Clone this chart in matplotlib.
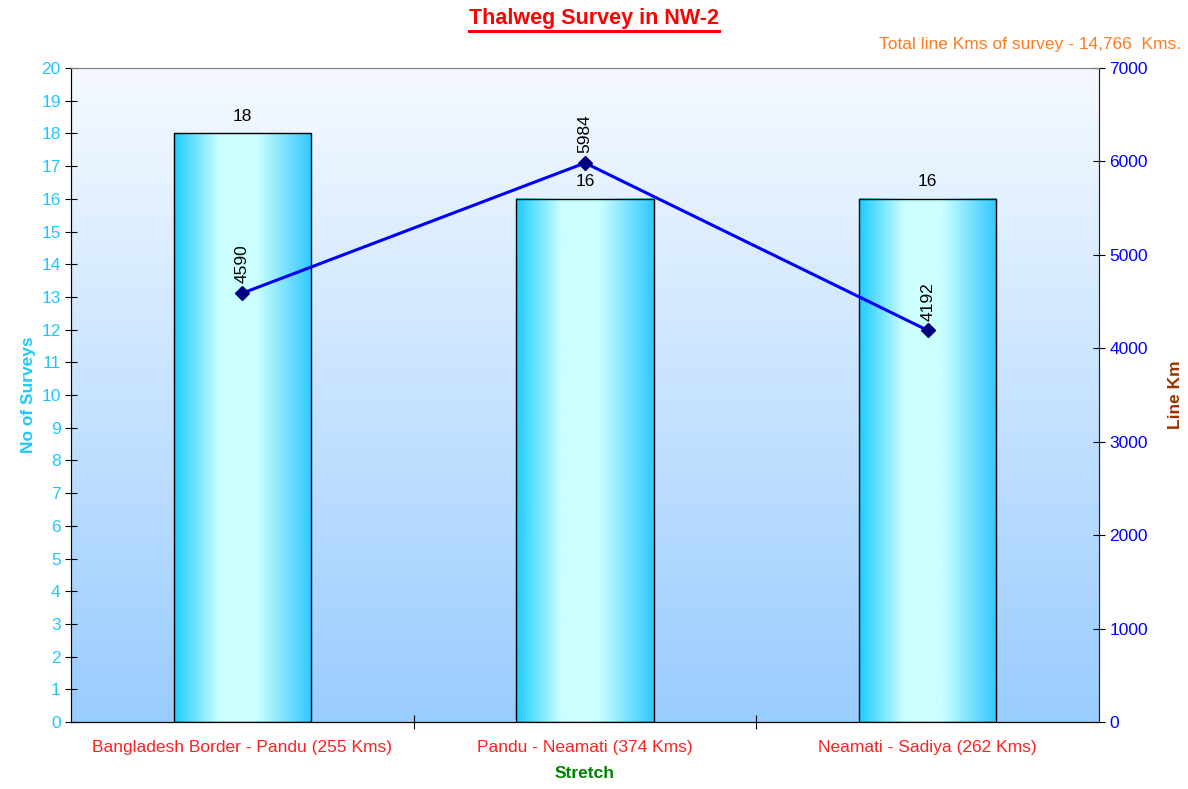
import numpy as np
import matplotlib
matplotlib.use("Agg")
import matplotlib.pyplot as plt
from matplotlib.colors import LinearSegmentedColormap
from matplotlib.lines import Line2D

plt.rcParams['font.family'] = ['Liberation Sans', 'DejaVu Sans']

# data
stretches = ["Bangladesh Border - Pandu (255 Kms)", "Pandu - Neamati (374 Kms)", "Neamati - Sadiya (262 Kms)"]
num_surveys = [18, 16, 16]
line_km = [4590, 5984, 4192]

fig = plt.figure(figsize=(11.88, 7.89), dpi=100)
ax = fig.add_axes([0.0598, 0.0849, 0.8653, 0.8289])

x = np.arange(len(stretches))

# plot background gradient
bg = LinearSegmentedColormap.from_list("bg", ["#99ccff", "#f6faff"])
ax.imshow(np.linspace(0, 1, 256).reshape(-1, 1), cmap=bg, origin="lower",
          extent=[0, 1, 0, 1], transform=ax.transAxes, aspect="auto", zorder=0)

bars = ax.bar(x, num_surveys, width=0.4, facecolor="none", edgecolor="black",
              linewidth=1.0, zorder=3)

# horizontal gradient inside each bar
barcm = LinearSegmentedColormap.from_list(
    "bar", [(0, "#1ecbff"), (0.33, "#ccffff"), (0.6, "#ccffff"), (1, "#30c8ff")])
grad = np.linspace(0, 1, 256).reshape(1, -1)
for b in bars:
    x0, y0 = b.get_x(), b.get_y()
    ax.imshow(grad, cmap=barcm, extent=[x0, x0 + b.get_width(), y0, y0 + b.get_height()],
              aspect="auto", zorder=2)
    ax.text(b.get_x() + b.get_width() / 2, b.get_height() + 0.3, str(int(b.get_height())),
            ha="center", va="bottom", fontsize=12.5, zorder=5)

ax.set_xlim(-0.5, 2.5)
ax.set_ylim(0, 20)
ax.set_yticks(range(0, 21))
ax.set_xticks([0.5, 1.5])
ax.set_xticklabels([])
ax.set_xticks(x, minor=True)
ax.set_xticklabels(stretches, minor=True, color="#ff2020", fontsize=12.5)
ax.tick_params(axis="x", which="minor", length=0, pad=13)
ax.tick_params(axis="x", which="major", direction="inout", length=10)
ax.tick_params(axis="y", direction="inout", length=8, labelcolor="#1ec8ff", labelsize=12.5)
ax.set_ylabel("No of Surveys", color="#1ec8ff", fontweight="bold", fontsize=12.5, labelpad=4)
ax.set_xlabel("Stretch", color="#008000", fontweight="bold", fontsize=12.5, labelpad=8)
for s in ["top", "right"]:
    ax.spines[s].set_color("#808080")
ax.spines["left"].set_color("#404040")
ax.spines["bottom"].set_color("#202020")

# secondary axis: line km
ax2 = ax.twinx()
ax2.plot(x, line_km, color="#0000ff", linewidth=2.2, marker="D", markersize=7,
         markerfacecolor="#000080", markeredgecolor="#000080", zorder=4)
for xi, v in zip(x, line_km):
    ax2.annotate(str(v), (xi, v), xytext=(0, 7), textcoords="offset points",
                 rotation=90, ha="center", va="bottom", fontsize=12.5)
ax2.set_ylim(0, 7000)
ax2.set_yticks(range(0, 7001, 1000))
ax2.tick_params(axis="y", direction="inout", length=8, labelcolor="#0000ff", labelsize=12.5)
ax2.set_ylabel("Line Km", color="#993300", fontweight="bold", fontsize=12.5, labelpad=14)
ax2.spines["right"].set_color("#202020")
ax2.spines["top"].set_color("#808080")

# title (underlined) and note
title = fig.text(0.5, 0.976, "Thalweg Survey in NW-2", ha="center", va="center",
                 color="#ff0000", fontweight="bold", fontsize=15.5)
fig.text(0.994, 0.944, "Total line Kms of survey - 14,766  Kms.", ha="right", va="center",
         color="#ff7a20", fontsize=12.5)

fig.canvas.draw()
bb = title.get_window_extent().transformed(fig.transFigure.inverted())
fig.add_artist(Line2D([bb.x0, bb.x1], [bb.y0 - 0.002, bb.y0 - 0.002],
                      color="#ff0000", linewidth=2.2, transform=fig.transFigure))

fig.savefig("out.png", dpi=100)
